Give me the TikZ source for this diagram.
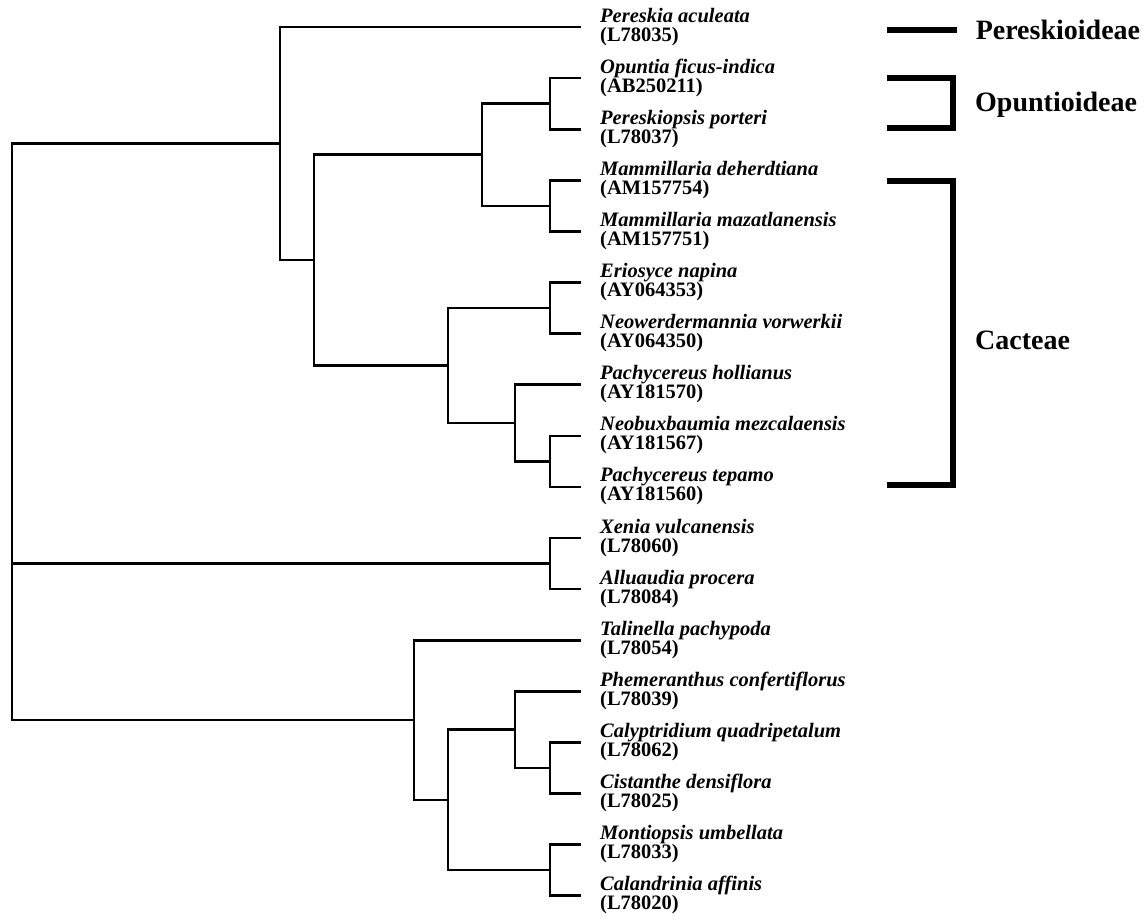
\documentclass[tikz,border=0pt]{standalone}
\usepackage{fontspec}
\setmainfont{Liberation Serif}
\tikzset{
  branch/.style = {line width = 2.6pt},
  bracket/.style = {line width = 5.5pt, line join = miter},
  taxon/.style = {font = \bfseries\itshape\fontsize{20.5}{20.5}\selectfont, inner sep = 0pt, anchor = base west},
  accno/.style = {font = \bfseries\fontsize{20.5}{20.5}\selectfont, inner sep = 0pt, anchor = base west},
  group/.style = {font = \bfseries\fontsize{28}{28}\selectfont, inner sep = 0pt, anchor = west}
}
\begin{document}
\begin{tikzpicture}[x = 1pt, y = -1pt]
		\useasboundingbox (0, 0) rectangle (1148, 918);
		% leaves and their labels
		\foreach \i/\sp/\acc in {1/Pereskia aculeata/L78035, 2/Opuntia ficus-indica/AB250211, 3/Pereskiopsis porteri/L78037, 4/Mammillaria deherdtiana/AM157754, 5/Mammillaria mazatlanensis/AM157751, 6/Eriosyce napina/AY064353, 7/Neowerdermannia vorwerkii/AY064350, 8/Pachycereus hollianus/AY181570, 9/Neobuxbaumia mezcalaensis/AY181567, 10/Pachycereus tepamo/AY181560, 11/Xenia vulcanensis/L78060, 12/Alluaudia procera/L78084, 13/Talinella pachypoda/L78054, 14/Phemeranthus confertiflorus/L78039, 15/Calyptridium quadripetalum/L78062, 16/Cistanthe densiflora/L78025, 17/Montiopsis umbellata/L78033, 18/Calandrinia affinis/L78020} {
			\coordinate (l\i) at (581, {27 + 51.1*(\i - 1)});
			\node[taxon] (sp\i) at ([xshift = 19pt, yshift = 5pt] l\i) {\sp};
			\node[accno] (acc\i) at ([xshift = 19pt, yshift = -14pt] l\i) {(\acc)};
		}
		% inner nodes
		\coordinate (nOP) at (550, 103.65);
		\coordinate (nMA) at (550, 205.85);
		\coordinate (nOM) at (482, 154.75);
		\coordinate (nEN) at (550, 308.05);
		\coordinate (nNP) at (550, 461.35);
		\coordinate (nPH) at (515, 423.0);
		\coordinate (nEP) at (448, 365.5);
		\coordinate (nCA) at (314, 260.1);
		\coordinate (nCT) at (280, 143.6);
		\coordinate (nXA) at (550, 563.55);
		\coordinate (nCM) at (550, 767.95);
		\coordinate (nPC) at (515, 729.6);
		\coordinate (nMC) at (550, 870.15);
		\coordinate (nPM) at (448, 799.9);
		\coordinate (nTP) at (414, 720.05);
		\coordinate (root) at (12, 431.8);
		% branches
		\foreach \p/\c in {root/nCT, root/nXA, root/nTP, nCT/l1, nCT/nCA, nCA/nOM, nCA/nEP, nOM/nOP, nOM/nMA, nOP/l2, nOP/l3, nMA/l4, nMA/l5, nEP/nEN, nEP/nPH, nEN/l6, nEN/l7, nPH/l8, nPH/nNP, nNP/l9, nNP/l10, nXA/l11, nXA/l12, nTP/l13, nTP/nPM, nPM/nPC, nPM/nMC, nPC/l14, nPC/nCM, nCM/l15, nCM/l16, nMC/l17, nMC/l18}
			\draw[branch] (\p) |- (\c);
		% subfamily brackets
		\coordinate (bP) at (887, 30);
		\coordinate (bO1) at (887, 78);
		\coordinate (bO2) at (887, 128);
		\coordinate (bC1) at (887, 181);
		\coordinate (bC2) at (887, 485);
		\draw[bracket] (bP) -- ++(70, 0) node[group, right = 16pt] (gP) {Pereskioideae};
		\draw[bracket] (bO1) -- ++(66, 0) |- (bO2);
		\draw[bracket] (bC1) -- ++(66, 0) |- (bC2);
		\node[group] (gO) at (975, 105) {Opuntioideae};
		\node[group] (gC) at (975, 340) {Cacteae};
	\end{tikzpicture}
\end{document}
